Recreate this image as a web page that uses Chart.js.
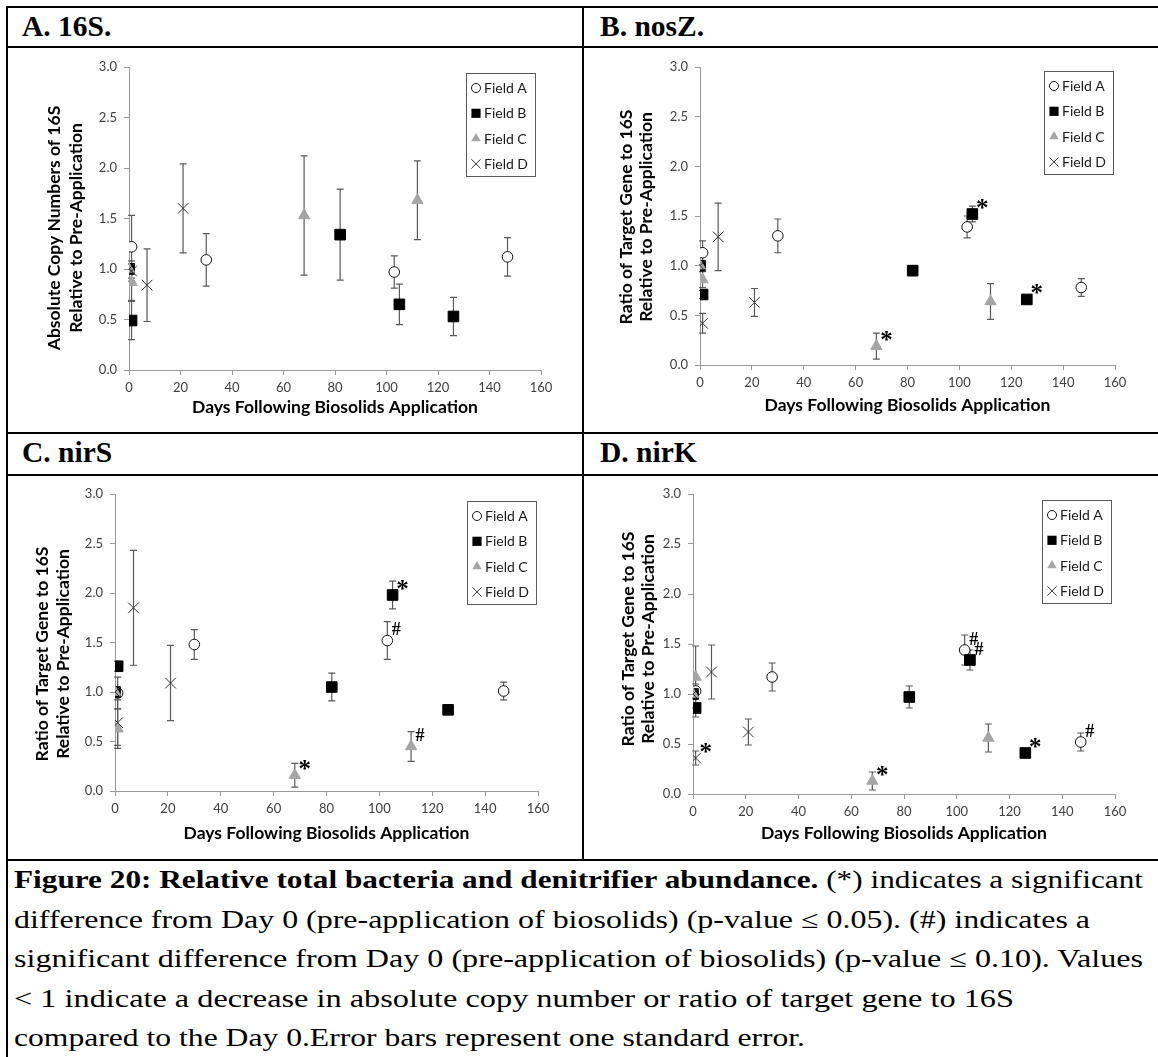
<!DOCTYPE html>
<html>
<head>
<meta charset="utf-8">
<title>Figure 20: Relative total bacteria and denitrifier abundance</title>
<script src="https://cdn.jsdelivr.net/npm/chart.js@4.4.1/dist/chart.umd.min.js"></script>
<style>
  html, body { margin:0; padding:0; background:#ffffff; }
  body { width:1158px; height:1057px; position:relative; overflow:hidden; }
  .rule { position:absolute; background:#000; }
  .hdr { position:absolute; font-family:'Liberation Serif','Times New Roman',serif; font-weight:bold; font-size:29.5px; line-height:29px; color:#000; white-space:nowrap; }
  .panel { position:absolute; }
  .panel canvas { display:block; }
  #caption { position:absolute; left:14px; top:860px; font-family:'Liberation Serif','Times New Roman',serif; font-size:25px; line-height:39.5px; color:#000; }
  #caption .ln { display:block; white-space:nowrap; width:max-content; transform-origin:0 50%; }
</style>
</head>
<body>
<div class="rule" style="left:6px;top:6px;width:1160px;height:2px"></div>
<div class="rule" style="left:6px;top:6px;width:2px;height:1051px"></div>
<div class="rule" style="left:6px;top:46px;width:1160px;height:2px"></div>
<div class="rule" style="left:6px;top:432px;width:1160px;height:2px"></div>
<div class="rule" style="left:6px;top:474px;width:1160px;height:2px"></div>
<div class="rule" style="left:6px;top:859px;width:1160px;height:2px"></div>
<div class="rule" style="left:582px;top:6px;width:2px;height:855px"></div>

<div class="hdr" style="left:22px;top:12px">A. 16S.</div>
<div class="hdr" style="left:600px;top:12px">B. nosZ.</div>
<div class="hdr" style="left:22px;top:438px">C. nirS</div>
<div class="hdr" style="left:600px;top:438px">D. nirK</div>

<div class="panel" style="left:8px;top:48px"><canvas id="cA" width="574" height="384"></canvas></div>
<div class="panel" style="left:584px;top:48px"><canvas id="cB" width="574" height="384"></canvas></div>
<div class="panel" style="left:8px;top:476px"><canvas id="cC" width="574" height="383"></canvas></div>
<div class="panel" style="left:584px;top:476px"><canvas id="cD" width="574" height="383"></canvas></div>

<div id="caption">
<span class="ln fit" data-w="1129"><b>Figure 20: Relative total bacteria and denitrifier abundance.</b> (*) indicates a significant</span>
<span class="ln fit" data-w="1076">difference from Day 0 (pre-application of biosolids) (p-value ≤ 0.05). (#) indicates a</span>
<span class="ln fit" data-w="1129">significant difference from Day 0 (pre-application of biosolids) (p-value ≤ 0.10). Values</span>
<span class="ln fit" data-w="1000">&lt; 1 indicate a decrease in absolute copy number or ratio of target gene to 16S</span>
<span class="ln fit" data-w="791">compared to the Day 0.Error bars represent one standard error.</span>
</div>

<script>
// ---------- labels ----------
const fieldLabels = ['Field A', 'Field B', 'Field C', 'Field D'];
const xTickValues = [0, 20, 40, 60, 80, 100, 120, 140, 160];
const yTickValues = [0, 0.5, 1, 1.5, 2, 2.5, 3];
const yTickLabels = ['0.0', '0.5', '1.0', '1.5', '2.0', '2.5', '3.0'];
const xAxisTitle = 'Days Following Biosolids Application';
const yTitle16S = ['Absolute Copy Numbers of 16S', 'Relative to Pre-Application'];
const yTitleRatio = ['Ratio of Target Gene to 16S', 'Relative to Pre-Application'];

// ---------- sampling days per field ----------
const daysFieldA = [0, 1, 30, 103, 147];
const daysFieldB = [0, 1, 82, 105, 126];
const daysFieldC = [0, 1, 68, 112];
const daysFieldD = [0, 1, 7, 21];

// ---------- A. 16S ----------
const s16_A = [1.00, 1.22, 1.09, 0.97, 1.12];
const s16_A_se = [0, 0.31, 0.26, 0.16, 0.19];
const s16_B = [1.00, 0.49, 1.34, 0.65, 0.53];
const s16_B_se = [0, 0.19, 0.45, 0.20, 0.19];
const s16_C = [1.00, 0.87, 1.53, 1.68];
const s16_C_se = [0, 0.18, 0.59, 0.39];
const s16_D = [1.00, 0.98, 0.84, 1.60];
const s16_D_se = [0, 0.10, 0.36, 0.44];

// ---------- B. nosZ ----------
const nosZ_A = [1.00, 1.13, 1.30, 1.39, 0.78];
const nosZ_A_se = [0, 0.12, 0.17, 0.11, 0.09];
const nosZ_B = [1.00, 0.71, 0.95, 1.52, 0.66];
const nosZ_B_se = [0, 0.04, 0.05, 0.08, 0.03];
const nosZ_C = [1.00, 0.86, 0.19, 0.64];
const nosZ_C_se = [0, 0.08, 0.13, 0.18];
const nosZ_D = [1.00, 0.42, 1.29, 0.63];
const nosZ_D_se = [0, 0.10, 0.34, 0.14];

// ---------- C. nirS ----------
const nirS_A = [1.00, 0.99, 1.48, 1.52, 1.01];
const nirS_A_se = [0, 0.16, 0.15, 0.19, 0.09];
const nirS_B = [1.00, 1.26, 1.05, 1.98, 0.82];
const nirS_B_se = [0, 0.05, 0.14, 0.14, 0.03];
const nirS_C = [1.00, 0.63, 0.16, 0.45];
const nirS_C_se = [0, 0.20, 0.12, 0.15];
const nirS_D = [1.00, 0.69, 1.85, 1.09];
const nirS_D_se = [0, 0.23, 0.58, 0.38];

// ---------- D. nirK ----------
const nirK_A = [1.00, 1.03, 1.17, 1.44, 0.52];
const nirK_A_se = [0, 0.07, 0.14, 0.15, 0.09];
const nirK_B = [1.00, 0.86, 0.97, 1.34, 0.41];
const nirK_B_se = [0, 0.09, 0.11, 0.10, 0.03];
const nirK_C = [1.00, 1.17, 0.13, 0.56];
const nirK_C_se = [0, 0.31, 0.09, 0.14];
const nirK_D = [1.00, 0.36, 1.22, 0.62];
const nirK_D_se = [0, 0.07, 0.27, 0.13];

// ---------- significance marks: [field index, point index, symbol] ----------
const marks16S = [];
const marksNosZ = [[1, 3, '*'], [1, 4, '*'], [2, 2, '*']];
const marksNirS = [[1, 3, '*'], [0, 3, '#'], [2, 3, '#'], [2, 2, '*']];
const marksNirK = [[0, 3, '#'], [1, 3, '#'], [1, 4, '*'], [0, 4, '#'], [3, 1, '*'], [2, 2, '*']];

// ---------- styles ----------
const AXIS = '#9a9a9a';
const fieldStyles = [
  { pointStyle: 'circle',   radius: 5.3, bg: '#ffffff', border: '#111111', bw: 1, lr: 4.5 },
  { pointStyle: 'rect',     radius: 7.5, bg: '#000000', border: '#000000', bw: 1, lr: 6.5 },
  { pointStyle: 'triangle', radius: 6.5, bg: '#a6a6a6', border: '#a6a6a6', bw: 1, lr: 5.5 },
  { pointStyle: 'crossRot', radius: 7.5, bg: '#333333', border: '#333333', bw: 1, lr: 6.5 }
];
const fieldDays = [daysFieldA, daysFieldB, daysFieldC, daysFieldD];

function drawLegendMarker(ctx, kind, cx, cy, r, st) {
  ctx.beginPath();
  ctx.lineWidth = 1;
  ctx.fillStyle = st.bg;
  ctx.strokeStyle = st.border;
  if (kind === 'circle') {
    ctx.arc(cx, cy, r, 0, Math.PI * 2);
    ctx.fill(); ctx.stroke();
  } else if (kind === 'rect') {
    const s = r * Math.SQRT1_2;
    ctx.rect(cx - s, cy - s, 2 * s, 2 * s);
    ctx.fill();
  } else if (kind === 'triangle') {
    for (let k = 0; k < 3; k++) {
      const a = k * 2 * Math.PI / 3;
      const px = cx + Math.sin(a) * r, py = cy - Math.cos(a) * r;
      if (k === 0) ctx.moveTo(px, py); else ctx.lineTo(px, py);
    }
    ctx.closePath(); ctx.fill();
  } else {
    const o = r * Math.SQRT1_2;
    ctx.moveTo(cx - o, cy - o); ctx.lineTo(cx + o, cy + o);
    ctx.moveTo(cx + o, cy - o); ctx.lineTo(cx - o, cy + o);
    ctx.stroke();
  }
}

const figPlugin = {
  id: 'fig',
  beforeDatasetsDraw(chart) {
    const { ctx, scales: { x, y } } = chart;
    ctx.save();
    ctx.strokeStyle = '#5a5a5a';
    ctx.lineWidth = 1.2;
    chart.data.datasets.forEach(ds => {
      ds.data.forEach(p => {
        if (!p.se) return;
        const px = x.getPixelForValue(p.x);
        const yt = y.getPixelForValue(p.y + p.se);
        const yb = y.getPixelForValue(p.y - p.se);
        ctx.beginPath();
        ctx.moveTo(px, yt); ctx.lineTo(px, yb);
        ctx.moveTo(px - 3.5, yt); ctx.lineTo(px + 3.5, yt);
        ctx.moveTo(px - 3.5, yb); ctx.lineTo(px + 3.5, yb);
        ctx.stroke();
      });
    });
    ctx.restore();
  },
  afterDatasetsDraw(chart, args, opts) {
    const { ctx, scales: { x, y } } = chart;
    ctx.save();
    ctx.fillStyle = '#000';
    (opts.marks || []).forEach(([fi, pi, sym]) => {
      const p = chart.data.datasets[fi].data[pi];
      const px = x.getPixelForValue(p.x), py = y.getPixelForValue(p.y);
      ctx.textAlign = 'center';
      ctx.textBaseline = 'alphabetic';
      if (sym === '*') {
        ctx.font = "bold 25px 'Liberation Serif'";
        ctx.fillText('*', px + 10, py + 2);
      } else {
        ctx.font = "bold 18px 'Liberation Serif'";
        ctx.fillText('#', px + 9, py - 5.5);
      }
    });
    ctx.restore();
  },
  afterDraw(chart, args, opts) {
    const { ctx, chartArea: ca } = chart;
    ctx.save();
    // legend box
    const w = 69, h = 103;
    const left = Math.round(ca.right - opts.legRight - w), top = Math.round(ca.top + opts.legTop);
    ctx.fillStyle = '#ffffff';
    ctx.fillRect(left, top, w, h);
    ctx.strokeStyle = '#595959';
    ctx.lineWidth = 1;
    ctx.strokeRect(left + 0.5, top + 0.5, w, h);
    chart.data.datasets.forEach((ds, i) => {
      const st = fieldStyles[i];
      const cy = top + 15 + i * 25.3;
      drawLegendMarker(ctx, st.pointStyle, left + 10, cy, st.lr, st);
      ctx.fillStyle = '#1a1a1a';
      ctx.font = '14px Lato';
      ctx.textAlign = 'left';
      ctx.textBaseline = 'middle';
      ctx.fillText(ds.label, left + 18, cy + 0.5);
    });
    // y axis title (two lines)
    ctx.fillStyle = '#000';
    ctx.font = 'bold 17.5px Lato';
    ctx.textAlign = 'center';
    ctx.textBaseline = 'middle';
    opts.yTitle.forEach((line, k) => {
      ctx.save();
      ctx.translate(opts.yTitleX[k], opts.yTitleCY);
      ctx.rotate(-Math.PI / 2);
      ctx.fillText(line, 0, 0);
      ctx.restore();
    });
    ctx.restore();
  }
};

Chart.defaults.font.family = "Lato, 'Open Sans', sans-serif";

function makePanel(canvasId, values, ses, marks, yTitle, L) {
  const datasets = values.map((vals, i) => ({
    label: fieldLabels[i],
    data: fieldDays[i].map((d, j) => ({ x: d, y: vals[j], se: ses[i][j] })),
    pointStyle: fieldStyles[i].pointStyle,
    pointRadius: fieldStyles[i].radius,
    pointBackgroundColor: fieldStyles[i].bg,
    pointBorderColor: fieldStyles[i].border,
    pointBorderWidth: fieldStyles[i].bw,
    showLine: false,
    order: 3 - i
  }));
  return new Chart(document.getElementById(canvasId), {
    type: 'scatter',
    data: { datasets },
    plugins: [figPlugin],
    options: {
      responsive: false,
      animation: false,
      events: [],
      layout: { padding: { left: 0, right: L.padR, top: L.padT, bottom: 0 } },
      plugins: {
        legend: { display: false },
        tooltip: { enabled: false },
        fig: { marks, yTitle, yTitleX: L.yTitleX, yTitleCY: L.yTitleCY, legRight: L.legRight, legTop: L.legTop }
      },
      scales: {
        x: {
          type: 'linear', position: 'bottom', min: 0, max: 160,
          afterBuildTicks: s => { s.ticks = xTickValues.map(v => ({ value: v })); },
          afterFit: s => { s.height = L.xH; },
          grid: { display: true, drawOnChartArea: false, drawTicks: true, tickLength: 5, color: AXIS, lineWidth: 1 },
          border: { display: true, color: AXIS, width: 1 },
          ticks: { autoSkip: false, maxRotation: 0, padding: 5, color: '#404040', font: { size: 13 } },
          title: { display: true, text: xAxisTitle, color: '#000', font: { size: 17.5, weight: 'bold' }, padding: { top: 0, bottom: L.xTitlePad } }
        },
        y: {
          type: 'linear', position: 'left', min: 0, max: 3,
          afterBuildTicks: s => { s.ticks = yTickValues.map(v => ({ value: v })); },
          afterFit: s => { s.width = L.yW; },
          grid: { display: true, drawOnChartArea: false, drawTicks: true, tickLength: 5, color: AXIS, lineWidth: 1 },
          border: { display: true, color: AXIS, width: 1 },
          ticks: { autoSkip: false, padding: 7, color: '#404040', font: { size: 13 }, callback: (v, i) => yTickLabels[i] },
          title: { display: false }
        }
      }
    }
  });
}

makePanel('cA', [s16_A, s16_B, s16_C, s16_D], [s16_A_se, s16_B_se, s16_C_se, s16_D_se], marks16S, yTitle16S,
  { yW: 121, padR: 41, padT: 19, xH: 62, xTitlePad: 14.2, yTitleX: [46, 68], yTitleCY: 180, legRight: 6, legTop: 6 });
makePanel('cB', [nosZ_A, nosZ_B, nosZ_C, nosZ_D], [nosZ_A_se, nosZ_B_se, nosZ_C_se, nosZ_D_se], marksNosZ, yTitleRatio,
  { yW: 116, padR: 43, padT: 19, xH: 67, xTitlePad: 16.2, yTitleX: [42, 62], yTitleCY: 169, legRight: 2, legTop: 4 });
makePanel('cC', [nirS_A, nirS_B, nirS_C, nirS_D], [nirS_A_se, nirS_B_se, nirS_C_se, nirS_D_se], marksNirS, yTitleRatio,
  { yW: 107, padR: 44, padT: 18, xH: 68, xTitlePad: 14.9, yTitleX: [34, 55], yTitleCY: 178, legRight: 2, legTop: 7 });
makePanel('cD', [nirK_A, nirK_B, nirK_C, nirK_D], [nirK_A_se, nirK_B_se, nirK_C_se, nirK_D_se], marksNirK, yTitleRatio,
  { yW: 109, padR: 43, padT: 18, xH: 65, xTitlePad: 14.9, yTitleX: [44, 64], yTitleCY: 163, legRight: 4, legTop: 6 });

// fit caption lines to the widths of the original typesetting
document.querySelectorAll('#caption .fit').forEach(el => {
  const target = parseFloat(el.dataset.w);
  const w = el.getBoundingClientRect().width;
  if (w > 0) el.style.transform = 'scaleX(' + (target / w).toFixed(4) + ')';
});
</script>
</body>
</html>
